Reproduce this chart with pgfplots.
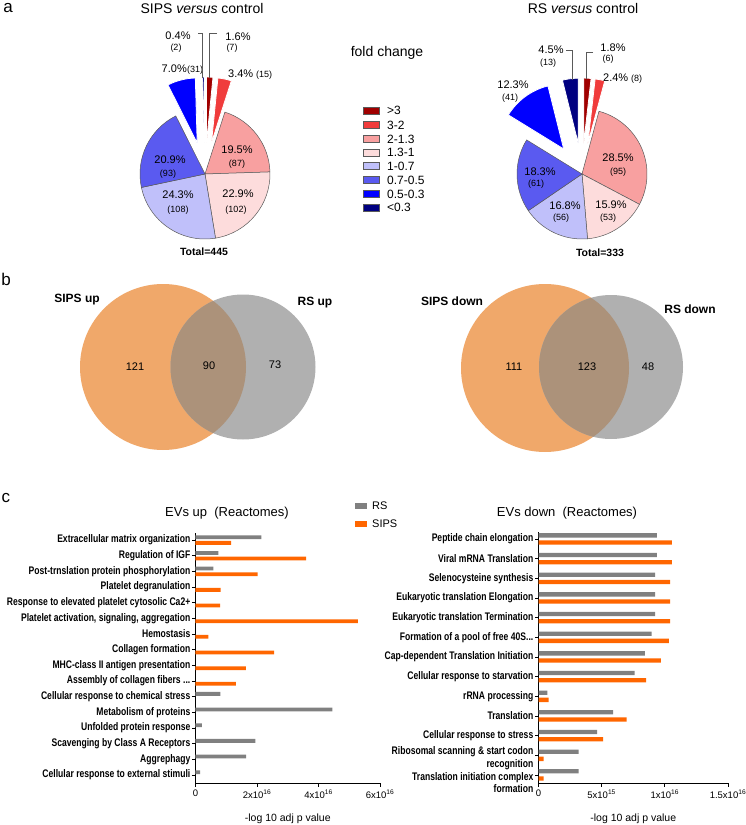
\documentclass[border=0pt]{standalone}
\usepackage{fontspec}
\setmainfont{Liberation Sans}
\newfontfamily\condbf[FakeStretch=0.78]{Liberation Sans Bold}
\usepackage{pgfplots}
\pgfplotsset{compat=1.18}

\definecolor{c1}{RGB}{160,0,0}
\definecolor{c2}{RGB}{240,60,60}
\definecolor{c3}{RGB}{248,160,160}
\definecolor{c4}{RGB}{253,220,220}
\definecolor{c5}{RGB}{192,192,250}
\definecolor{c6}{RGB}{90,90,240}
\definecolor{c7}{RGB}{0,0,255}
\definecolor{c8}{RGB}{0,0,128}
\definecolor{pieedge}{RGB}{90,90,90}
\definecolor{vorange}{RGB}{240,168,106}
\definecolor{vgray}{RGB}{176,176,176}
\definecolor{vover}{RGB}{172,146,122}
\definecolor{barg}{RGB}{128,128,128}
\definecolor{baro}{RGB}{255,102,0}

% one slice: centre x, centre y, counts before, count, total, explode offset, style
\newcommand\pieslice[7]{%
  \filldraw[#7] (#1,#2) ++({90-(#3+#4/2)/#5*360}:#6pt)
    -- ++({90-(#3)/#5*360}:65pt)
    arc[start angle={90-(#3)/#5*360}, end angle={90-(#3+#4)/#5*360}, radius=65pt]
    -- cycle;}
\newcommand\fs[1]{\fontsize{#1pt}{#1pt}\selectfont}
% two-line tick label: raise, first line, second line
\newcommand\twoline[3]{\raisebox{#1}[8pt][2.3pt]{#2\smash{\llap{\raisebox{-12.5pt}[0pt][0pt]{#3}}}}}

\pgfplotsset{
  evbars/.style={
    scale only axis, xbar, anchor=south west,
    axis x line*=bottom, axis y line*=left,
    axis line style={black, line width=0.8pt},
    tick style={black, line width=0.8pt},
    tick align=outside, major tick length=3.5pt,
    xmin=0,
    ticklabel style={font=\fs{9.5}},
    yticklabel style={font=\condbf\fs{11}, inner sep=1.5pt},
    xlabel={-log 10 adj p value},
    xlabel style={font=\fs{10.5}, yshift=-8pt},
    every axis plot/.append style={draw=none},
  }
}

\begin{document}
\begin{tikzpicture}
% ---------- panels a and b, in pixel coordinates ----------
\begin{axis}[name=canvas, at={(0pt,0pt)}, anchor=south west, scale only axis,
  width=746pt, height=825pt, xmin=0, xmax=746, ymin=0, ymax=825, y dir=reverse,
  hide axis, clip=false]

\node[font=\fs{17}] at (8,8) {a};
\node[font=\fs{17}] at (6,279) {b};
\node[font=\fs{17}] at (6,498) {c};

% SIPS versus control, total 445
\node[font=\fs{14}] at (202,8) {SIPS \textit{versus} control};
\pieslice{205}{174}{22}{87}{445}{0}{fill=c3, draw=pieedge, line width=0.5pt}
\pieslice{205}{174}{109}{102}{445}{0}{fill=c4, draw=pieedge, line width=0.5pt}
\pieslice{205}{174}{211}{108}{445}{0}{fill=c5, draw=pieedge, line width=0.5pt}
\pieslice{205}{174}{319}{93}{445}{0}{fill=c6, draw=pieedge, line width=0.5pt}
\pieslice{205}{174}{0}{7}{445}{32}{fill=c1, draw=white, line width=0.8pt}
\pieslice{205}{174}{7}{15}{445}{32}{fill=c2, draw=white, line width=0.8pt}
\pieslice{205}{174}{412}{31}{445}{32}{fill=c7, draw=white, line width=0.8pt}
\pieslice{205}{174}{443}{2}{445}{32}{fill=c8, draw=white, line width=0.8pt}
\node[font=\fs{11}] at (237,150) {19.5\%};
\node[font=\fs{9}] at (237,164) {(87)};
\node[font=\fs{11}] at (238,194) {22.9\%};
\node[font=\fs{9}] at (236,210) {(102)};
\node[font=\fs{11}] at (178,195) {24.3\%};
\node[font=\fs{9}] at (178,210) {(108)};
\node[font=\fs{11}] at (170,160) {20.9\%};
\node[font=\fs{9}] at (168,174) {(93)};
\node[font=\fs{11}, anchor=east, inner sep=0pt] at (187,69) {7.0\%};
\node[font=\fs{9}, anchor=west, inner sep=0pt] at (187,70) {(31)};
\node[font=\fs{11}, anchor=west, inner sep=0pt] at (228,74) {3.4\%};
\node[font=\fs{9}, anchor=west, inner sep=0pt] at (256,75) {(15)};
\node[font=\fs{11}] at (178,36) {0.4\%};
\node[font=\fs{9}] at (176,48) {(2)};
\node[font=\fs{11}] at (238,37) {1.6\%};
\node[font=\fs{9}] at (232,48) {(7)};
\draw[pieedge, line width=0.5pt] (198,33) -- (202,33) -- (202,78);
\draw[pieedge, line width=0.5pt] (217,33) -- (209,33) -- (209,78);
\node[font=\bfseries\fs{10.5}] at (204,252) {Total=445};

% RS versus control, total 333
\node[font=\fs{14}] at (583,8) {RS \textit{versus} control};
\pieslice{582}{174}{14}{95}{333}{0}{fill=c3, draw=pieedge, line width=0.5pt}
\pieslice{582}{174}{109}{53}{333}{0}{fill=c4, draw=pieedge, line width=0.5pt}
\pieslice{582}{174}{162}{56}{333}{0}{fill=c5, draw=pieedge, line width=0.5pt}
\pieslice{582}{174}{218}{61}{333}{0}{fill=c6, draw=pieedge, line width=0.5pt}
\pieslice{582}{174}{0}{6}{333}{31}{fill=c1, draw=white, line width=0.8pt}
\pieslice{582}{174}{6}{8}{333}{31}{fill=c2, draw=white, line width=0.8pt}
\pieslice{582}{174}{279}{41}{333}{31}{fill=c7, draw=white, line width=0.8pt}
\pieslice{582}{174}{320}{13}{333}{31}{fill=c8, draw=white, line width=0.8pt}
\node[font=\fs{11}] at (618,158) {28.5\%};
\node[font=\fs{9}] at (618,172) {(95)};
\node[font=\fs{11}] at (611,205) {15.9\%};
\node[font=\fs{9}] at (608,218) {(53)};
\node[font=\fs{11}] at (565,206) {16.8\%};
\node[font=\fs{9}] at (561,218) {(56)};
\node[font=\fs{11}] at (540,172) {18.3\%};
\node[font=\fs{9}] at (536,184) {(61)};
\node[font=\fs{11}] at (513,85) {12.3\%};
\node[font=\fs{9}] at (510,98) {(41)};
\node[font=\fs{11}] at (551,50) {4.5\%};
\node[font=\fs{9}] at (548,63) {(13)};
\node[font=\fs{11}] at (613,48) {1.8\%};
\node[font=\fs{9}] at (608,59) {(6)};
\node[font=\fs{11}, anchor=west, inner sep=0pt] at (603,78) {2.4\%};
\node[font=\fs{9}, anchor=west, inner sep=0pt] at (631,79) {(8)};
\draw[pieedge, line width=0.5pt] (566,50) -- (572,50) -- (572,80);
\draw[pieedge, line width=0.5pt] (593,52) -- (586,52) -- (586,79);
\node[font=\bfseries\fs{10.5}] at (600,253) {Total=333};

% fold change legend
\node[font=\fs{14}] at (387,53) {fold change};
\foreach \c/\t/\y in {c1/>3/110.7, c2/3-2/125, c3/2-1.3/139, c4/1.3-1/152.7,
    c5/1-0.7/166, c6/0.7-0.5/180, c7/0.5-0.3/194, c8/<0.3/207.7}{
  \edef\tmp{\noexpand\filldraw[fill=\c, draw=pieedge, line width=0.5pt]
    (363,\y-3.5) rectangle (379,\y+3.5);
    \noexpand\node[font=\noexpand\fs{12}, anchor=west, inner sep=0pt] at (387,\y) {\t};}
  \tmp
}

% Venn diagrams
\fill[vorange] (163,367) circle[radius=83pt];
\fill[vgray] (243,367) circle[radius=72.5pt];
\begin{scope}
  \clip (163,367) circle[radius=83pt];
  \fill[vover] (243,367) circle[radius=72.5pt];
\end{scope}
\node[font=\bfseries\fs{12}] at (77,300) {SIPS up};
\node[font=\bfseries\fs{12}] at (315,303) {RS up};
\node[font=\fs{11}] at (135,367) {121};
\node[font=\fs{11}] at (209,366) {90};
\node[font=\fs{11}] at (275,365) {73};

\fill[vorange] (545,368) circle[radius=84pt];
\fill[vgray] (611,367) circle[radius=72pt];
\begin{scope}
  \clip (545,368) circle[radius=84pt];
  \fill[vover] (611,367) circle[radius=72pt];
\end{scope}
\node[font=\bfseries\fs{12}] at (452,301) {SIPS down};
\node[font=\bfseries\fs{12}] at (690,309) {RS down};
\node[font=\fs{11}] at (514,367) {111};
\node[font=\fs{11}] at (587,367) {123};
\node[font=\fs{11}] at (648,367) {48};

% panel c titles and legend
\node[font=\fs{13}] at (227,513) {EVs up\ \ (Reactomes)};
\node[font=\fs{13}] at (567,513) {EVs down\ \ (Reactomes)};
\fill[barg] (355,503) rectangle (367,509);
\fill[baro] (355,521) rectangle (367,527);
\node[font=\fs{11}, anchor=west, inner sep=0pt] at (372,506) {RS};
\node[font=\fs{11}, anchor=west, inner sep=0pt] at (372,524) {SIPS};
\end{axis}

% ---------- EVs up ----------
\begin{axis}[evbars, at={(195.5pt,42pt)}, width=184.5pt, height=250.3pt,
  xmax=6, ymin=-15.51, ymax=0.47, bar width=3.8pt,
  xtick={0,2,4,6},
  xticklabels={0, 2x10\textsuperscript{16}, 4x10\textsuperscript{16}, 6x10\textsuperscript{16}},
  ytick={0,-1,-2,-3,-4,-5,-6,-7,-8,-9,-10,-11,-12,-13,-14,-15},
  yticklabels={Extracellular matrix organization, Regulation of IGF,
    Post-trnslation protein phosphorylation, Platelet degranulation,
    Response to elevated platelet cytosolic Ca2+,
    {Platelet activation, signaling, aggregation}, Hemostasis,
    Collagen formation, MHC-class II antigen presentation,
    {Assembly of collagen fibers .{}.{}.}, Cellular response to chemical stress,
    Metabolism of proteins, Unfolded protein response,
    Scavenging by Class A Receptors, Aggrephagy,
    Cellular response to external stimuli},
]
% RS, values in units of 1e16
\addplot[fill=barg, bar shift=2.8pt] coordinates {
  (2.14,0) (0.74,-1) (0.58,-2) (0.81,-10) (4.45,-11) (0.21,-12)
  (1.95,-13) (1.65,-14) (0.15,-15)};
% SIPS
\addplot[fill=baro, bar shift=-2.8pt] coordinates {
  (1.16,0) (3.60,-1) (2.02,-2) (0.82,-3) (0.80,-4) (5.28,-5)
  (0.42,-6) (2.56,-7) (1.64,-8) (1.31,-9)};
\end{axis}

% ---------- EVs down ----------
\begin{axis}[evbars, at={(538.5pt,42pt)}, width=189.5pt, height=251.3pt,
  xmax=15, ymin=-12.41, ymax=0.37, bar width=4.3pt,
  xtick={0,5,10,15},
  xticklabels={0, 5x10\textsuperscript{15}, 1x10\textsuperscript{16}, 1.5x10\textsuperscript{16}},
  ytick={0,-1,-2,-3,-4,-5,-6,-7,-8,-9,-10,-11,-12},
  yticklabels={Peptide chain elongation, Viral mRNA Translation,
    Selenocysteine synthesis, Eukaryotic translation Elongation,
    Eukaryotic translation Termination, {Formation of a pool of free 40S.{}.{}.},
    Cap-dependent Translation Initiation, Cellular response to starvation,
    rRNA processing, Translation, Cellular response to stress,
    \twoline{3.5pt}{Ribosomal scanning \& start codon}{recognition},
    \twoline{-2.5pt}{Translation initiation complex}{formation}},
]
% RS, values in units of 1e15
\addplot[fill=barg, bar shift=3.6pt] coordinates {
  (9.37,0) (9.37,-1) (9.23,-2) (9.23,-3) (9.23,-4) (8.95,-5) (8.42,-6)
  (7.60,-7) (0.70,-8) (5.91,-9) (4.65,-10) (3.18,-11) (3.18,-12)};
% SIPS
\addplot[fill=baro, bar shift=-3.6pt] coordinates {
  (10.55,0) (10.55,-1) (10.42,-2) (10.42,-3) (10.42,-4) (10.32,-5) (9.68,-6)
  (8.52,-7) (0.81,-8) (6.97,-9) (5.12,-10) (0.41,-11) (0.41,-12)};
\end{axis}

\pgfresetboundingbox
\path (0pt,0pt) rectangle (746pt,825pt);
\end{tikzpicture}
\end{document}
